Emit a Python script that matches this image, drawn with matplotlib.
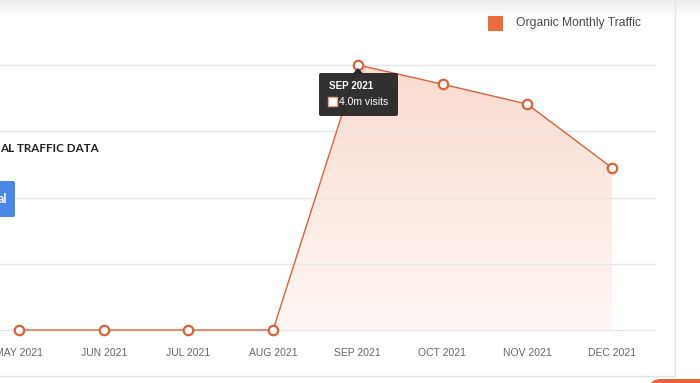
import matplotlib.pyplot as plt
import numpy as np
from matplotlib.patches import FancyBboxPatch, Polygon, Rectangle

plt.rcParams["font.family"] = ["Liberation Sans", "DejaVu Sans"]

# data (organic visits, millions)
months = ["MAY 2021", "JUN 2021", "JUL 2021", "AUG 2021",
          "SEP 2021", "OCT 2021", "NOV 2021", "DEC 2021"]
visits_m = [0.0, 0.0, 0.0, 0.0, 4.0, 3.71, 3.41, 2.45]
grid_values = [0, 1, 2, 3, 4]
legend_label = "Organic Monthly Traffic"
tooltip_month = "SEP 2021"
tooltip_text = "4.0m visits"

W, H = 700, 383
ORANGE = "#dc613a"


def main() -> None:
    fig = plt.figure(figsize=(W / 100, H / 100), dpi=100)
    fig.patch.set_facecolor("white")

    # main chart axes, scaled so the plot sits where it does in the screenshot
    ax = fig.add_axes([0, 0, 1, 1])
    x0_px, dx_px = 19, 84.7
    y0_px, dy_px = 330, 66.25
    xlim = (-x0_px / dx_px, (W - x0_px) / dx_px)
    ylim = ((y0_px - H) / dy_px, y0_px / dy_px)
    ax.axis("off")

    x = np.arange(len(months))
    y = np.array(visits_m)

    for v in grid_values:
        ax.axhline(v, xmin=0, xmax=655 / W, color="#e6e6e6", lw=1, zorder=3)

    # gradient area fill
    verts = [(x[0], 0)] + list(zip(x, y)) + [(x[-1], 0)]
    clip = Polygon(verts, closed=True, fc="none", ec="none")
    ax.add_patch(clip)
    top = np.array([250, 219, 208]) / 255
    bottom = np.array([255, 247, 244]) / 255
    t = np.linspace(0, 1, 256).reshape(-1, 1, 1)
    grad = top * (1 - t) + bottom * t
    im = ax.imshow(grad, extent=[x[0], x[-1], 0, y.max()], origin="upper",
                   aspect="auto", zorder=2, interpolation="bilinear")
    im.set_clip_path(clip)
    ax.set_xlim(*xlim)
    ax.set_ylim(*ylim)

    ax.plot(x, y, color=ORANGE, lw=1, zorder=4)
    ax.plot(x, y, "o", ms=6.8, mfc="white", mec=ORANGE, mew=1.6, zorder=5)

    for i, lab in enumerate(months):
        ax.text(i, 1 - 353 / H, lab, transform=ax.get_xaxis_transform(),
                ha="center", va="center", fontsize=7.5, color="#666666")

    # overlay in pixel coordinates for the page decorations
    ov = fig.add_axes([0, 0, 1, 1], zorder=5)
    ov.axis("off")
    ov.patch.set_alpha(0)

    # top shadow
    shade = np.linspace(0.93, 1.0, 64).reshape(-1, 1)
    ov.imshow(np.dstack([shade] * 3), extent=[0, W, 18, 0], aspect="auto",
              interpolation="bilinear", zorder=0)
    ov.set_xlim(0, W)
    ov.set_ylim(H, 0)

    # card border
    ov.plot([675, 675], [0, 376], color="#e3e3e3", lw=1)
    ov.plot([0, 675], [376, 376], color="#e3e3e3", lw=1)
    ov.add_patch(FancyBboxPatch((649, 379), 90, 30,
                                boxstyle="round,pad=0,rounding_size=12",
                                fc="#e8623a", ec="none"))

    # legend
    ov.add_patch(Rectangle((488, 16), 15, 15, fc="#ec6a3c", ec="none"))
    ov.text(516, 23, legend_label, ha="left", va="center",
            fontsize=8.7, color="#4a4a4a")

    # left side page text
    ov.text(0, 149, "AL TRAFFIC DATA", ha="left", va="center",
            fontsize=8.4, fontweight="bold", color="#222222",
            family=["Lato", "DejaVu Sans"])
    ov.add_patch(FancyBboxPatch((-10, 181), 25, 36,
                                boxstyle="round,pad=0,rounding_size=2",
                                fc="#4a86e8", ec="none"))
    ov.text(7, 199, "al", ha="right", va="center", fontsize=9,
            fontweight="bold", color="white", family=["Lato", "DejaVu Sans"])

    # tooltip
    ov.add_patch(FancyBboxPatch((319, 73), 79, 43,
                                boxstyle="round,pad=0,rounding_size=2",
                                fc="#262626", ec="none", alpha=0.95))
    ov.add_patch(Polygon([(353, 73.5), (358, 68), (363, 73.5)],
                         fc="#262626", ec="none"))
    ov.text(329, 86, tooltip_month, ha="left", va="center", fontsize=7.1,
            fontweight="bold", color="white")
    ov.add_patch(Rectangle((328, 97), 9, 9, fc="white", ec="#e8a080", lw=1))
    ov.text(339, 102, tooltip_text, ha="left", va="center", fontsize=7.5,
            color="white")

    fig.savefig("out.png", dpi=100)


if __name__ == "__main__":
    main()
